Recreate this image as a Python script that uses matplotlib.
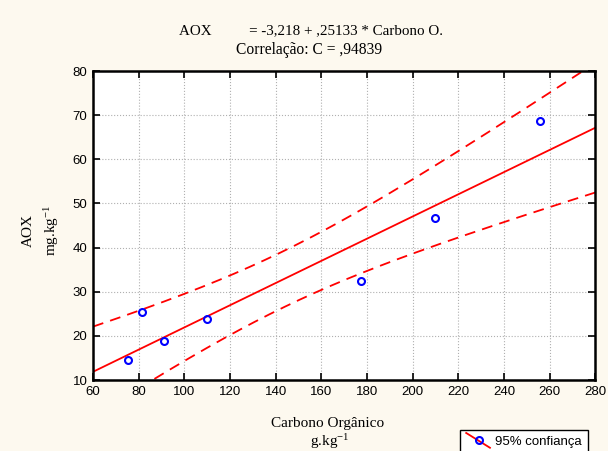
import numpy as np
import matplotlib
matplotlib.use("Agg")
import matplotlib.pyplot as plt
from matplotlib.lines import Line2D
from matplotlib.legend_handler import HandlerBase

# measured points (Carbono Organico g/kg vs AOX mg/kg)
carbono = np.array([75.3, 81.5, 91.1, 110.0, 177.4, 209.9, 255.9])
aox = np.array([14.5, 25.4, 18.8, 23.8, 32.4, 46.7, 68.7])

# regression from the chart header
intercept = -3.218
slope = 0.25133
t_95 = 2.571  # t(0.975, n-2=5)

xticks = [60, 80, 100, 120, 140, 160, 180, 200, 220, 240, 260, 280]
yticks = [10, 20, 30, 40, 50, 60, 70, 80]

# fitted line and 95% confidence band of the mean
xx = np.linspace(60, 280, 200)
yy = intercept + slope * xx
n = len(carbono)
resid = aox - (intercept + slope * carbono)
s = np.sqrt(np.sum(resid ** 2) / (n - 2))
sxx = np.sum((carbono - carbono.mean()) ** 2)
half = t_95 * s * np.sqrt(1.0 / n + (xx - carbono.mean()) ** 2 / sxx)

plt.rcParams["mathtext.fontset"] = "custom"
plt.rcParams["mathtext.rm"] = "Liberation Serif"
plt.rcParams["mathtext.it"] = "Liberation Serif:italic"


class DiagHandler(HandlerBase):
    def create_artists(self, legend, orig, xd, yd, width, height, fontsize, trans):
        ln = Line2D([xd, xd + width], [yd + height + 2, yd - 2], color="red", lw=1.3)
        ln.set_transform(trans)
        mk = Line2D([xd + width * 0.55], [yd + height / 2], marker="o", color="blue",
                    mfc="none", mew=1.5, ms=5, ls="none")
        mk.set_transform(trans)
        return [ln, mk]


bg = "#fdf9ef"
fig = plt.figure(figsize=(6.08, 4.51), dpi=100, facecolor=bg)
ax = fig.add_axes([0.153, 0.1574, 0.826, 0.685])
ax.set_facecolor("white")

ax.plot(xx, yy, color="red", lw=1.3)
ax.plot(xx, yy + half, color="red", lw=1.3, ls=(0, (6, 4)))
ax.plot(xx, yy - half, color="red", lw=1.3, ls=(0, (6, 4)))
pts, = ax.plot(carbono, aox, "o", color="blue", mfc="none", mew=1.5, ms=5)

ax.set_xlim(60, 280)
ax.set_ylim(10, 80)
ax.set_xticks(xticks)
ax.set_yticks(yticks)
ax.grid(True, color="#b0b0b0", ls=":", lw=0.8)
ax.tick_params(direction="in", top=True, right=True, length=5, width=1.2,
               labelsize=9.5, pad=4)
for lab in ax.get_xticklabels() + ax.get_yticklabels():
    lab.set_family("Liberation Sans")
for sp in ax.spines.values():
    sp.set_linewidth(1.8)

serif = "Liberation Serif"
fig.text(0.511, 0.931, "AOX          = -3,218 + ,25133 * Carbono O.", ha="center", va="center",
         family=serif, fontsize=10.8)
fig.text(0.509, 0.889, "Correlação: C = ,94839", ha="center", va="center",
         family=serif, fontsize=11.2)

fig.text(0.046, 0.49, "AOX", rotation=90, ha="center", va="center", family=serif, fontsize=11)
fig.text(0.084, 0.49, r"mg.kg$^{\mathregular{-1}}$", rotation=90, ha="center", va="center",
         family=serif, fontsize=11)
fig.text(0.538, 0.06, "Carbono Orgânico", ha="center", va="center", family=serif, fontsize=11)
fig.text(0.543, 0.022, r"g.kg$^{\mathregular{-1}}$", ha="center", va="center", family=serif,
         fontsize=11)

leg = fig.legend([pts], ["95% confiança"], loc="upper left", bbox_to_anchor=(0.757, 0.047),
                 handler_map={pts: DiagHandler()}, handlelength=1.8, handletextpad=0.4,
                 fancybox=False, framealpha=1, edgecolor="black", borderaxespad=0,
                 prop={"family": "Liberation Sans", "size": 9.5}, borderpad=0.45)
leg.get_frame().set_linewidth(1.0)

fig.savefig("out.png", dpi=100, facecolor=bg)
